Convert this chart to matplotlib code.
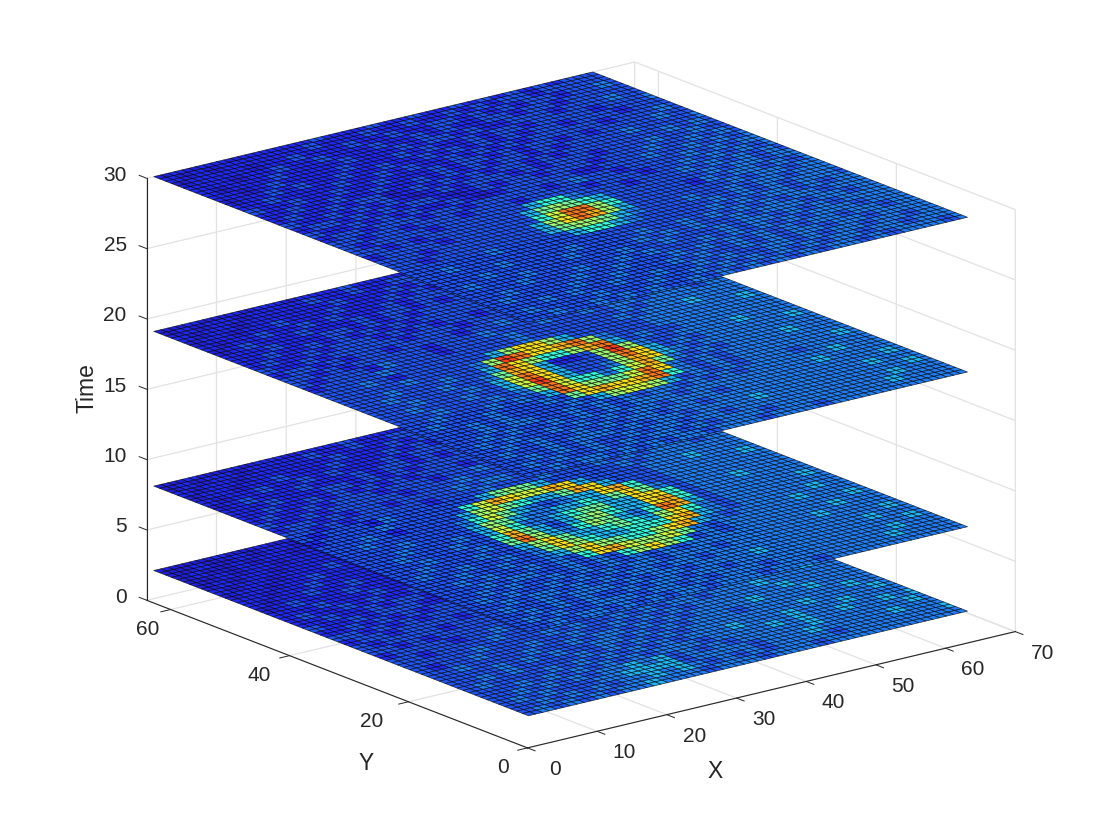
import numpy as np
import matplotlib
matplotlib.use("Agg")
import matplotlib.pyplot as plt
from matplotlib.transforms import ScaledTranslation

plt.rcParams['font.family'] = ['Liberation Sans', 'DejaVu Sans']

# Each slice: 32 rows (low Y first) of 32 hex levels (low X first).
slice_t2 = """
34343434 45444344 43444344 44444444
33434343 44545434 34344443 44444445
34343334 45555344 44344454 44445444
33434343 44545343 43444445 44444454
33343434 34343444 34444545 44544545
34333343 43434343 44454445 44454444
33434333 34343434 34444444 45444454
33334343 43344343 43444344 44444544
33433334 33434434 34344445 44454444
32334333 43343343 43434444 44544444
33333433 33434334 34344344 45444444
33233334 33343343 43434434 44444544
23333233 43333434 33434344 44454444
33232333 33434343 43343444 34444444
32333323 33343334 34334344 44444454
23323333 23333433 33433434 34344444
33232323 33233343 33433343 44343444
22323232 33332333 43334334 34344344
32232333 22333233 33433433 43434344
22322323 32323333 23343343 34343434
23223232 23232333 33233433 43343443
22232223 22323233 23333343 33434343
12322232 22232323 33233334 33433434
21223223 22322232 32323333 43343343
22122322 22223223 23323233 33433434
12212232 22322322 33232333 23343343
21221222 32222323 22323323 33233433
12122122 22322232 23223233 32333334
11212212 22232223 22322323 32323333
12112122 12222322 22322232 33232333
11211212 21222222 32223223 22323233
11112112 12122122 22232222 32223233
"""

slice_t8 = """
33434434 34344344 43444344 44444444
34343344 43443434 44344444 44454444
33434343 34344344 34444444 44445444
34334344 43434434 44454444 44444454
33434434 34344344 34444444 44445444
34343343 43434434 44344444 44444454
33434334 34343434 34444444 44544444
33343443 3434368a 86343444 44445444
33434334 3436ab98 89743444 44444454
33343343 3458a876 68ab5434 44454444
34334334 347a8655 666ab543 44444544
33433343 358a7556 7658a643 44444444
33343334 37c85468 7546cb53 44444454
33433343 36b75357 8655ab63 44444444
33343334 35964456 7755aa63 44454444
33334333 35875445 5657a743 44444444
33433333 34697543 455ab633 44444444
33343233 33589765 57ba5333 44444454
23333433 33369ba9 9ba53333 44454444
32333243 33333578 75333334 34444444
33232333 33233343 33433343 43444344
23323233 23333434 43433434 34343444
32232333 33233343 33433343 44343444
23223233 32333233 43334334 34344344
22322323 23232333 23343343 34343434
22232223 32323233 33233433 43343443
12322232 22323323 23333343 33434343
21223223 23222323 33233334 33433434
12212232 22322232 32323333 43343343
21221222 22232223 23323233 33433434
12122122 22322322 33232333 23343343
11211212 21222322 22322323 32323233
"""

slice_t19 = """
33434434 34344344 43444344 44444444
34343343 43443434 44344444 44454444
33434343 34344344 34444444 44445444
34334344 43434434 44454444 44444454
33434334 34344344 34444444 44445444
34343343 43434434 44344444 44444454
33434334 34343444 34444444 44544444
33343443 34343434 43434344 44445444
33343433 33435899 85343434 44344444
34333433 3437abaa bc643434 44444454
33433343 435ca877 9ca43434 44444444
33343334 347c9664 69b74343 44445444
33433343 359da533 48ba5434 44444444
33343334 359ca533 38ca5343 44444454
33433343 347ba522 38d84334 44454444
33343334 335ca866 8bc53433 44444444
33333433 3348dcaa bc843334 44444444
33343233 333358aa 85333334 44444454
23333433 33333334 33333343 44454444
32333243 33233334 33333334 34444444
33232333 33233343 33433434 43444344
23323233 23333233 43334334 34343444
32232333 33233323 33433343 44343444
23223233 32323233 23343334 34344344
22322323 23232333 33233343 34343434
22232223 32323233 33233433 43343443
12322232 22323323 23333343 33434343
21223223 23222323 33233334 33433434
12212232 22322232 32323333 43343343
21221222 22232223 23323233 33433434
12122122 22322322 33232333 23343343
11211212 21222322 22322323 32323233
"""

slice_t30 = """
33433434 34334343 43434344 34344434
34333343 33433434 34343434 43443444
33343433 43343343 43344343 44344344
34333343 34333434 33434344 34434444
33433334 33433343 43434343 44344344
33334333 43343433 34343434 34443444
34333433 33334334 33343443 43434444
33343333 34333343 43433434 44344344
33333433 33433334 33434343 43443444
33433333 33333333 33333434 34434344
33333343 33335665 43333343 43434443
33233333 33357887 54333433 43443444
33323333 33358acb 85333333 34344344
23333233 333369cc 86333332 43443434
33232333 33335787 65333333 34344344
32333323 33333566 43332333 43434343
33233233 32333233 33233323 34343434
23323332 33233333 23433233 33434344
32232323 22321233 33322333 43343434
23323232 33212323 32333233 34334343
32232323 21232333 23233323 33433433
23223233 12323232 33232333 33334343
22322322 32232323 23323233 33433334
32232232 23222323 32323323 23333433
22322223 22323223 23232333 33233343
12232322 32232232 32323233 23332333
22123222 23222323 22323323 33323334
21222322 22322232 33232233 32333433
22212232 23222322 32322332 33233333
12222122 32223223 22332323 23323343
21212222 22322232 23223232 33233333
12122122 22232223 22322323 23232333
"""

slice_times = [2, 8, 19, 30]
slice_texts = [slice_t2, slice_t8, slice_t19, slice_t30]
level_values = [.04, .085, .14, .19, .235, .30, .38, .47, .53, .60, .67, .73, .80, .87, .93, 1.0]
x_ticks = [0, 10, 20, 30, 40, 50, 60, 70]
y_ticks = [0, 20, 40, 60]
z_ticks = [0, 5, 10, 15, 20, 25, 30]


def parse(text):
    rows = [ln.replace(' ', '') for ln in text.strip().splitlines()]
    lv = np.array(level_values)
    return lv[np.array([[int(c, 16) for c in r] for r in rows])]


TEXT = '#262626'
fig = plt.figure(figsize=(11.2, 8.4), dpi=100, facecolor='white')
ax = fig.add_axes([149.7 / 1120, 3.7 / 840, 840 / 1120, 1.0], projection='3d',
                  computed_zorder=False, proj_type='ortho')
ax.view_init(elev=17.7, azim=-128.1)
ax.set_box_aspect((620, 617, 443), zoom=1.133)
ax.set_xlim(0, 70, view_margin=0)
ax.set_ylim(0, 64, view_margin=0)
ax.set_zlim(0, 30, view_margin=0)

xs = np.arange(1, 65)
ys = np.arange(1, 65)
X, Y = np.meshgrid(xs, ys)
cmap = plt.get_cmap('jet')
for k, (t, txt) in enumerate(zip(slice_times, slice_texts)):
    vals = np.repeat(np.repeat(parse(txt), 2, axis=0), 2, axis=1)
    cols = cmap(vals)
    cols[..., :3] = cols[..., :3] * 0.85 + 0.12
    ax.plot_surface(X, Y, np.full_like(X, t, dtype=float), facecolors=cols,
                    rstride=1, cstride=1, shade=False, edgecolor=(0, 0, 0, 0.75),
                    linewidth=0.5, zorder=10 + k, antialiased=True)

ax.set_xticks(x_ticks)
ax.set_yticks(y_ticks)
ax.set_zticks(z_ticks)
ax.tick_params(axis='both', labelsize=15, colors=TEXT, pad=8)
ax.tick_params(axis='z', labelsize=15, colors=TEXT, pad=8)
for axis in (ax.xaxis, ax.yaxis, ax.zaxis):
    axis.set_pane_color((1, 1, 1, 0))
    axis.pane.set_edgecolor('#e2e2e2')
    axis.pane.set_linewidth(1.0)
    axis.line.set_color(TEXT)
    axis.line.set_linewidth(0.8)
    axis._axinfo['grid'].update(color='#e2e2e2', linewidth=0.9)
    axis._axinfo['tick'].update(inward_factor=0.25, outward_factor=0.0,
                                linewidth={True: 0.7, False: 0.5}, color=TEXT)
    axis.set_rotate_label(False)
ax.zaxis._get_tickdir = lambda pos: 1
ax.zaxis._axinfo['tick'].update(inward_factor=0.0, outward_factor=0.25)
ax.set_xlabel('X', fontsize=16.5, color=TEXT, rotation=0, labelpad=18)
ax.set_ylabel('Y', fontsize=16.5, color=TEXT, rotation=0, labelpad=18)
ax.set_zlabel('Time', fontsize=16.5, color=TEXT, rotation=90, labelpad=18)


def shift(dx, dy):
    return ax.transData + ScaledTranslation(dx / 100, dy / 100, fig.dpi_scale_trans)


def pin(text, dx, dy):
    """Keep a tick label's pixel offset: Axis3D.draw would reset the transform."""
    text.set_transform(shift(dx, dy))
    text.set_transform = lambda *_: None


def pin_label(text, dx, dy):
    """Axis titles get their transform reset right before they are drawn."""
    draw = text.draw

    def wrapped(renderer):
        text._transform = shift(dx, dy)
        draw(renderer)
    text.draw = wrapped


for tick in ax.xaxis.get_major_ticks():
    pin(tick.label1, 8, 17)
for tick, dx in zip(ax.yaxis.get_major_ticks(), [0, -12, -6, 2]):
    pin(tick.label1, dx, 17)
for tick in ax.zaxis.get_major_ticks():
    tick.label1.set_ha('right')
    pin(tick.label1, 24, 11)
pin_label(ax.xaxis.label, -103, -11)
pin_label(ax.yaxis.label, 89, -23)
pin_label(ax.zaxis.label, 48, -3)
fig.savefig('out.png', dpi=100, facecolor='white')
